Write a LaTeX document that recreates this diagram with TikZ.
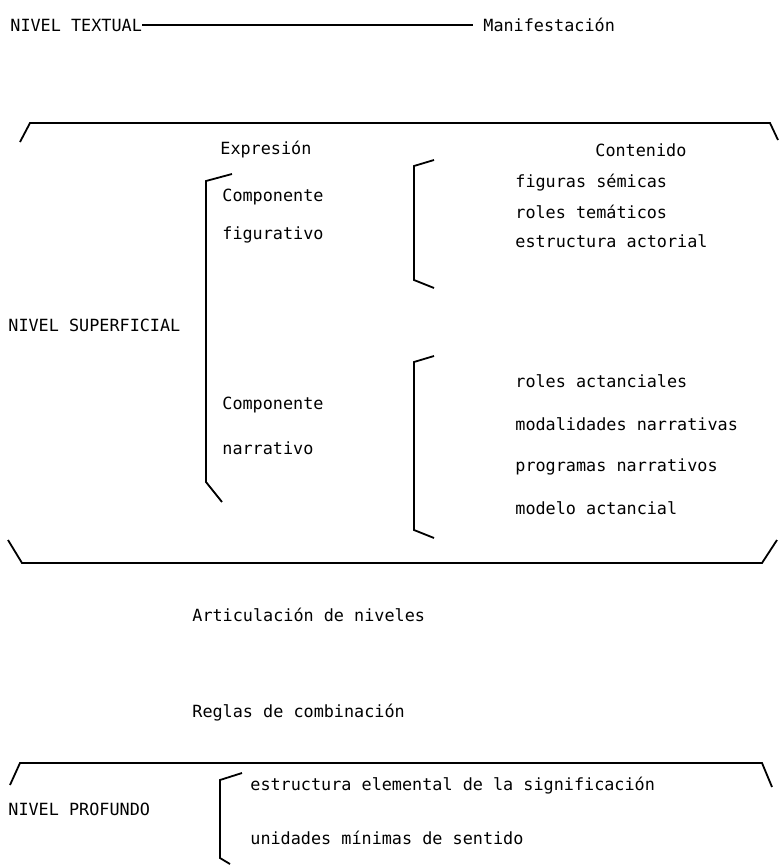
\documentclass[tikz,border=0pt]{standalone}
\usepackage{fontspec}
\setmainfont{DejaVu Sans Mono}
\usetikzlibrary{positioning}

\begin{document}
\begin{tikzpicture}[x=0.5pt, y=-0.5pt,
    txt/.style={anchor=west, inner sep=0pt, font=\fontsize{8.4}{10}\selectfont},
    brk/.style={line width=0.9pt}]
    \useasboundingbox (0,0) rectangle (780,867);

    % --- Nivel textual ---
    \node[txt] (textual) at (10,25) {NIVEL TEXTUAL};
    \node[txt] (manif) at (483,25) {Manifestación};
    \draw[brk] (textual.east) -- ([xshift=-5pt]manif.west);

    % --- Nivel superficial ---
    \draw[brk] (20,142) -- (30,123) -- (770,123) -- (778,140);
    \draw[brk] (8,540) -- (22,563) -- (762,563) -- (777,540);
    \node[txt] (expr) at (220,150) {Expresión};
    \node[txt] (cont) at (595,150) {Contenido};
    \node[txt] (superf) at (8,325) {NIVEL SUPERFICIAL};
    % Expresion bracket
    \draw[brk] (232,174) -- (206,181) -- (206,482) -- (222,502);
    \node[txt] (compfig) at (222,197) {Componente};
    \node[txt] (figur) at (222,235) {figurativo};
    \node[txt] (compnar) at (222,405) {Componente};
    \node[txt] (narr) at (222,448) {narrativo};
    % Contenido brackets
    \draw[brk] (434,160) -- (414,166) -- (414,280) -- (434,288);
    \node[txt] (fig1) at (515,183) {figuras sémicas};
    \node[txt] (fig2) at (515,212) {roles temáticos};
    \node[txt] (fig3) at (515,241) {estructura actorial};
    \draw[brk] (434,356) -- (414,362) -- (414,530) -- (434,538);
    \node[txt] (nar1) at (515,381) {roles actanciales};
    \node[txt] (nar2) at (515,424) {modalidades narrativas};
    \node[txt] (nar3) at (515,467) {programas narrativos};
    \node[txt] (nar4) at (515,508) {modelo actancial};

    % --- Articulacion ---
    \node[txt] (artic) at (192,615) {Articulación de niveles};
    \node[txt] (reglas) at (192,713) {Reglas de combinación};

    % --- Nivel profundo ---
    \draw[brk] (10,785) -- (20,763) -- (762,763) -- (772,787);
    \node[txt] (prof) at (8,809) {NIVEL PROFUNDO};
    \draw[brk] (242,773) -- (220,780) -- (220,858) -- (230,864);
    \node[txt] (prof1) at (250,786) {estructura elemental de la significación};
    \node[txt] (prof2) at (250,838) {unidades mínimas de sentido};
\end{tikzpicture}
\end{document}
